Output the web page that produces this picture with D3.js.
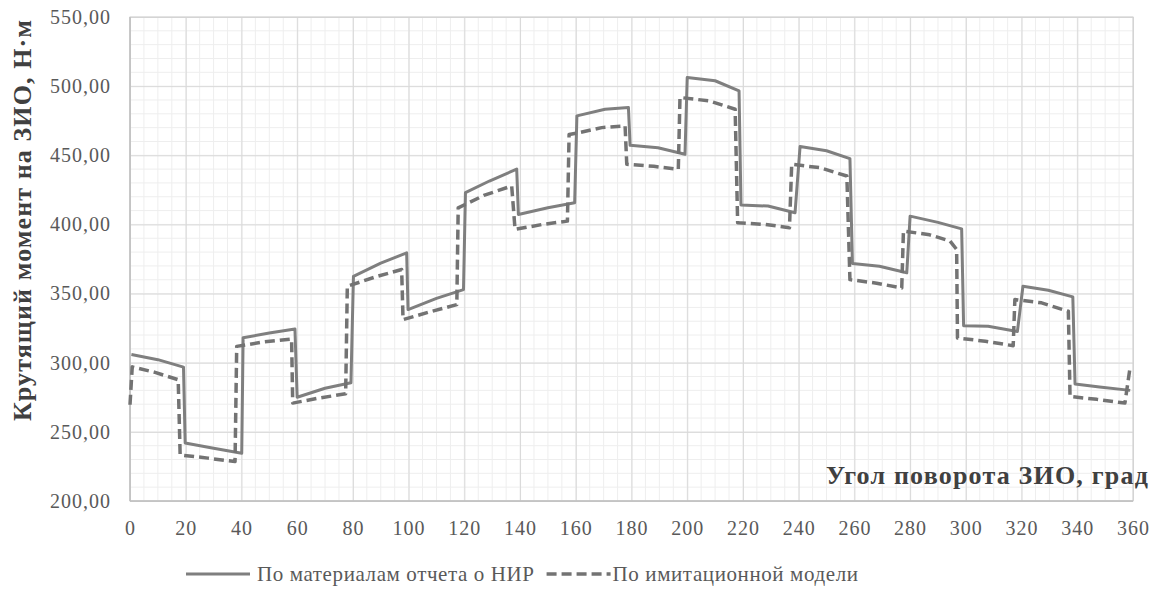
<!DOCTYPE html>
<html>
<head>
<meta charset="utf-8">
<script src="https://cdn.jsdelivr.net/npm/d3@7"></script>
<style>
  body { margin: 0; background: #fff; }
  svg, svg text { font-family: "Liberation Serif", "Times New Roman", serif !important; }
</style>
</head>
<body>
<div id="chart"></div>
<script>
// values
const reportAngle = [0.5, 10, 19.2, 19.8, 30, 40.1, 40.6, 50, 59.2, 60, 70, 79.3, 80.2, 90, 99.3, 99.8, 110, 119.7,
  120.4, 129, 138.8, 139.4, 150, 159.6, 160.4, 170.5, 178.9, 179.5, 189.5, 199.2, 200, 210, 218.6, 219.3, 229, 238.7,
  240.5, 250, 258.4, 259.3, 269, 278.8, 280, 290, 298.5, 299.2, 308, 318.5, 320.5, 329.6, 338.4, 339.2, 348, 359];
const reportTorque = [306, 302.2, 296.8, 242, 238.2, 234.5, 318, 321.5, 324.4, 275, 281.5, 285.5, 362.5, 372, 379.4, 338.4, 346.5, 352.9,
  423, 431.4, 440, 407.2, 412, 415.7, 478.5, 483.3, 484.5, 457.2, 455.5, 450.7, 506.3, 503.9, 496.6, 414, 413.3, 408.5,
  456.3, 453.3, 447.6, 371.7, 369.8, 365, 406, 401.5, 396.8, 326.8, 326.3, 322.5, 355.3, 352.4, 347.6, 284.6, 282.5, 280];

const modelAngle = [0, 0.8, 9, 17.3, 18, 28, 37.7, 38.3, 48, 58, 58.4, 68, 77.4, 78, 88, 97.5, 98, 108, 117.3,
  117.8, 127, 137, 138.2, 148, 157, 157.6, 160.3, 169.3, 177.7, 178.3, 188, 196.8, 197.4, 208, 217.2, 218.1, 228, 236.7,
  237.5, 247.7, 257.3, 258.4, 268, 277, 277.6, 287, 294.3, 296.7, 297, 307, 317, 317.6, 327.2, 336.8, 337.4, 347, 357.1, 359];
const modelTorque = [269.6, 297, 293, 287.7, 233.3, 231, 228.5, 311.8, 315, 317.1, 270.8, 274.5, 277.5, 355.3, 362, 367.4, 331.2, 337, 342,
  412, 421, 427.8, 396.4, 400, 402.4, 465, 466, 470, 471.2, 443.5, 442, 439.9, 491.8, 489.3, 483.3, 401.2, 400, 397.6,
  443.5, 441, 435, 360.1, 357.5, 354.1, 395.2, 392.5, 388, 381.9, 317.9, 315.5, 312.3, 345.7, 343.3, 337.2, 275.6, 273.5, 270.8, 297.3];

const xTickValues = [0, 20, 40, 60, 80, 100, 120, 140, 160, 180, 200, 220, 240, 260, 280, 300, 320, 340, 360];
const yTickValues = [200, 250, 300, 350, 400, 450, 500, 550];

const seriesNames = ["По материалам отчета о НИР", "По имитационной модели"];
const xTitle = "Угол поворота ЗИО, град";
const yTitle = "Крутящий момент на ЗИО, Н·м";

const W = 1152, H = 594;
const margin = { top: 17, right: 19, bottom: 93, left: 130 };
const width = W - margin.left - margin.right,
  height = H - margin.top - margin.bottom;

const svg = d3.select("#chart").append("svg")
  .attr("width", W)
  .attr("height", H);

const g = svg.append("g").attr("transform", `translate(${margin.left},${margin.top})`);

const x = d3.scaleLinear().domain([0, 360]).range([0, width]);
const y = d3.scaleLinear().domain([200, 550]).range([height, 0]);

// minor grid
g.append("g")
  .selectAll("line")
  .data(d3.range(0, 361, 5))
  .join("line")
  .attr("x1", d => x(d)).attr("x2", d => x(d))
  .attr("y1", 0).attr("y2", height)
  .attr("stroke", "#eeeeee");
g.append("g")
  .selectAll("line")
  .data(d3.range(200, 551, 10))
  .join("line")
  .attr("x1", 0).attr("x2", width)
  .attr("y1", d => y(d)).attr("y2", d => y(d))
  .attr("stroke", "#eeeeee");

// major grid
g.append("g")
  .call(d3.axisBottom(x).tickValues(xTickValues).tickSize(height).tickFormat(""))
  .call(a => a.select(".domain").remove())
  .selectAll("line").attr("stroke", "#d9d9d9");
g.append("g")
  .call(d3.axisLeft(y).tickValues(yTickValues).tickSize(-width).tickFormat(""))
  .call(a => a.select(".domain").remove())
  .selectAll("line").attr("stroke", "#d9d9d9");

// plot border
g.append("rect")
  .attr("width", width).attr("height", height)
  .attr("fill", "none")
  .attr("stroke", "#d0d0d0");
g.append("line")
  .attr("x1", 0).attr("x2", 0).attr("y1", 0).attr("y2", height)
  .attr("stroke", "#bfbfbf").attr("stroke-width", 1.5);
g.append("line")
  .attr("x1", 0).attr("x2", width).attr("y1", height).attr("y2", height)
  .attr("stroke", "#bfbfbf").attr("stroke-width", 1.5);

// tick labels
const fmt = d => d3.format(".2f")(d).replace(".", ",");
g.append("g")
  .call(d3.axisLeft(y).tickValues(yTickValues).tickSize(0).tickPadding(19).tickFormat(fmt))
  .call(a => a.select(".domain").remove())
  .selectAll("text")
  .attr("fill", "#595959")
  .style("font-size", "20px")
  .style("letter-spacing", "1px");

g.append("g")
  .attr("transform", `translate(0,${height})`)
  .call(d3.axisBottom(x).tickValues(xTickValues).tickSize(0).tickPadding(20))
  .call(a => a.select(".domain").remove())
  .selectAll("text")
  .attr("fill", "#595959")
  .style("font-size", "20px")
  .style("letter-spacing", "1px");

// lines
const line = d3.line()
  .x(d => x(d[0]))
  .y(d => y(d[1]));

g.append("path")
  .datum(d3.zip(reportAngle, reportTorque))
  .attr("fill", "none")
  .attr("stroke", "#7f7f7f")
  .attr("stroke-width", 3)
  .attr("stroke-linejoin", "round")
  .attr("d", line);

g.append("path")
  .datum(d3.zip(modelAngle, modelTorque))
  .attr("fill", "none")
  .attr("stroke", "#737373")
  .attr("stroke-width", 3.5)
  .attr("stroke-dasharray", "10,5")
  .attr("stroke-linejoin", "round")
  .attr("d", line);

// axis titles
svg.append("text")
  .attr("transform", `translate(31,220) rotate(-90)`)
  .attr("text-anchor", "middle")
  .attr("fill", "#404040")
  .style("font-size", "26px")
  .style("font-weight", "bold")
  .style("letter-spacing", "1.1px")
  .text(yTitle);

svg.append("text")
  .attr("x", 1149)
  .attr("y", 484)
  .attr("text-anchor", "end")
  .attr("fill", "#404040")
  .style("font-size", "26px")
  .style("font-weight", "bold")
  .style("letter-spacing", "1.2px")
  .text(xTitle);

// legend
const legend = svg.append("g").attr("transform", "translate(186,574)");
let lx = 0;
seriesNames.forEach((name, i) => {
  const item = legend.append("g").attr("transform", `translate(${lx},0)`);
  item.append("line")
    .attr("x1", 0).attr("x2", 64)
    .attr("stroke", i ? "#737373" : "#7f7f7f")
    .attr("stroke-width", i ? 3.5 : 3)
    .attr("stroke-dasharray", i ? "10,5" : null);
  const t = item.append("text")
    .attr("x", i ? 66 : 71)
    .attr("dy", "0.35em")
    .attr("fill", "#595959")
    .style("font-size", "21px")
    .style("letter-spacing", "0.6px")
    .text(name);
  lx += (i ? 66 : 71) + t.node().getComputedTextLength() + 12;
});
</script>
</body>
</html>
